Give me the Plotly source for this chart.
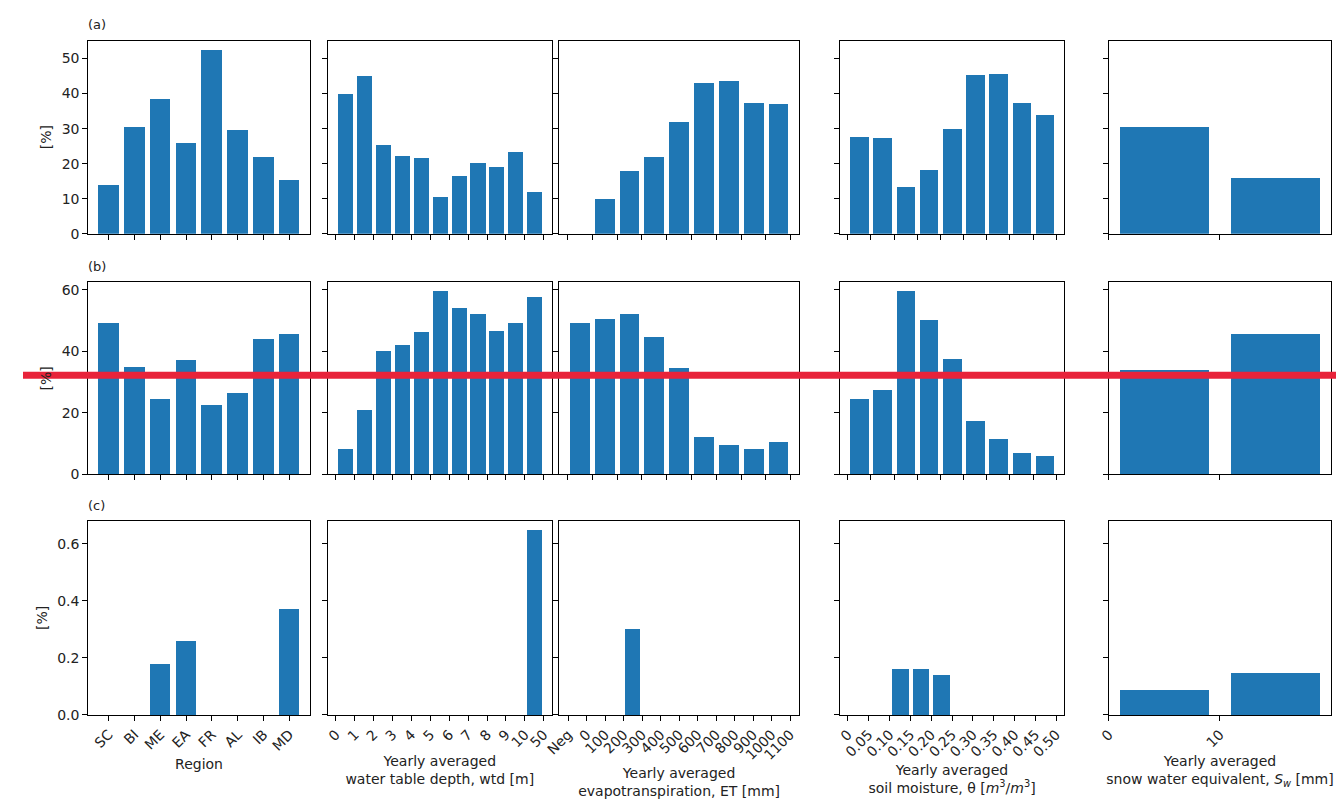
import plotly.graph_objects as go

W, H = 1344, 806

region_labels = ["SC", "BI", "ME", "EA", "FR", "AL", "IB", "MD"]
wtd_labels = ["0", "1", "2", "3", "4", "5", "6", "7", "8", "9", "10", "50"]
et_labels = ["Neg", "0", "100", "200", "300", "400", "500", "600", "700", "800", "900", "1000", "1100"]
sm_labels = ["0", "0.05", "0.10", "0.15", "0.20", "0.25", "0.30", "0.35", "0.40", "0.45", "0.50"]
snow_x = [5, 15]

region_a = [14, 30.5, 38.5, 26, 52.5, 29.7, 22, 15.5]
region_b = [49, 35, 24.5, 37, 22.5, 26.5, 44, 45.7]
region_c = [0, 0, 0.18, 0.26, 0, 0, 0, 0.37]

wtd_a = [40, 45.2, 25.3, 22.3, 21.6, 10.7, 16.5, 20.3, 19.1, 23.3, 12]
wtd_b = [8.1, 20.9, 40.1, 42.1, 46.2, 59.5, 54.1, 52, 46.4, 49.1, 57.6]
wtd_c = [0, 0, 0, 0, 0, 0, 0, 0, 0, 0, 0.65]

et_a = [0, 10, 18, 22, 32, 43, 43.8, 37.3, 37]
et_b = [49, 50.5, 52, 44.5, 34.5, 12, 9.5, 8.3, 10.3]
et_c = [0, 0, 0, 0.3, 0, 0, 0, 0, 0, 0, 0, 0]

sm_a = [27.6, 27.3, 13.5, 18.2, 30, 45.5, 45.8, 37.3, 34]
sm_b = [24.5, 27.3, 59.5, 50, 37.6, 17.2, 11.3, 7, 5.8]
sm_c = [0, 0, 0.16, 0.16, 0.14, 0, 0, 0, 0, 0]

snow_a = [30.6, 16]
snow_b = [33.9, 45.7]
snow_c = [0.088, 0.146]

rows = [
    [region_a, wtd_a, et_a, sm_a, snow_a],
    [region_b, wtd_b, et_b, sm_b, snow_b],
    [region_c, wtd_c, et_c, sm_c, snow_c],
]
col_labels = [region_labels, wtd_labels, et_labels, sm_labels, None]
xtitles = ["Region", "Yearly averaged<br>water table depth, wtd [m]",
           "Yearly averaged<br>evapotranspiration, ET [mm]",
           "Yearly averaged<br>soil moisture, θ [<i>m</i><sup>3</sup>/<i>m</i><sup>3</sup>]",
           "Yearly averaged<br>snow water equivalent, <i>S<sub>w</sub></i> [mm]"]
yranges = [[0, 55.1], [0, 62.5], [0, 0.68]]
yticks = [[0, 10, 20, 30, 40, 50], [0, 20, 40, 60], [0, 0.2, 0.4, 0.6]]
yticktext = [None, None, ["0.0", "0.2", "0.4", "0.6"]]

col_px = [(66, 290), (308, 535), (542, 785), (826, 1053), (1098, 1323)]
row_px = [(33, 228), (277, 471), (518, 714)]
panel_tags = ["(a)", "(b)", "(c)"]

font = dict(family="DejaVu Sans", size=14, color="#222")
fig = go.Figure()
layout = {}
ann = []

for r in range(3):
    for c in range(5):
        k = r * 5 + c + 1
        xa = "x" if k == 1 else f"x{k}"
        ya = "y" if k == 1 else f"y{k}"
        vals = rows[r][c]
        if c == 4:
            xs = snow_x
            width = 8
        else:
            xs = list(range(len(vals)))
            width = 0.8
        fig.add_trace(go.Bar(x=xs, y=vals, width=width, marker_color="#1f77b4",
                             marker_line_width=0, xaxis=xa, yaxis=ya, showlegend=False))
        n = len(vals)
        xax = dict(domain=[col_px[c][0] / W, col_px[c][1] / W], anchor=ya,
                   showline=True, mirror=True, linecolor="black", linewidth=1,
                   ticks="outside", ticklen=5, tickcolor="black", showgrid=False,
                   zeroline=False, tickfont=font, tickangle=-45)
        if c == 4:
            xax.update(range=[0, 20], tickvals=[0, 10], ticktext=["0", "10"])
        else:
            span = n - 0.2
            xax["range"] = [-0.4 - 0.05 * span, n - 0.6 + 0.05 * span]
            if c == 0:
                xax["tickvals"] = xs
                xax["ticktext"] = col_labels[0]
            else:
                xax["tickvals"] = [i - 0.5 for i in range(n + 1)]
                xax["ticktext"] = col_labels[c][:n + 1]
        if r < 2:
            xax["showticklabels"] = False
        else:
            xax["title"] = dict(text=xtitles[c], font=font, standoff=6)
        yax = dict(domain=[1 - row_px[r][1] / H, 1 - row_px[r][0] / H], anchor=xa,
                   range=yranges[r], tickvals=yticks[r], showline=True, mirror=True,
                   linecolor="black", linewidth=1, ticks="outside", ticklen=5,
                   tickcolor="black", showgrid=False, zeroline=False, tickfont=font,
                   showticklabels=(c == 0))
        if yticktext[r]:
            yax["ticktext"] = yticktext[r]
        if c == 0:
            yax["title"] = dict(text="[%]", font=font, standoff=6)
        layout["xaxis" if k == 1 else f"xaxis{k}"] = xax
        layout["yaxis" if k == 1 else f"yaxis{k}"] = yax
    ann.append(dict(text=panel_tags[r], x=64 / W, y=1 - (row_px[r][0] - 16) / H,
                    xref="paper", yref="paper", showarrow=False, xanchor="left",
                    yanchor="middle", font=dict(family="DejaVu Sans", size=13, color="#222")))

fig.update_layout(**layout)
fig.update_layout(
    width=W, height=H, margin=dict(l=0, r=0, t=0, b=0),
    paper_bgcolor="white", plot_bgcolor="white", bargap=0,
    annotations=ann,
    shapes=[dict(type="line", xref="paper", yref="paper", x0=0, x1=1338 / W,
                 y0=1 - 371 / H, y1=1 - 371 / H,
                 line=dict(color="#e8233a", width=7))],
)
fig.write_html("out.html")
